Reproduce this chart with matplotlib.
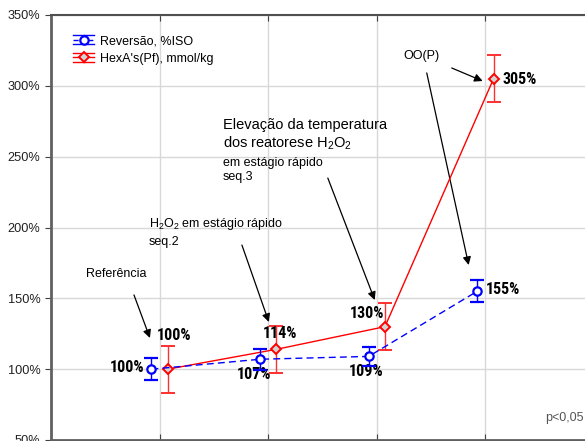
import numpy as np
import matplotlib.pyplot as plt
from matplotlib.ticker import FuncFormatter
from matplotlib.legend_handler import HandlerBase
from matplotlib.lines import Line2D

# four process stages, values in % of the reference stage
stages = [1, 2, 3, 4]
reversao = [100, 107, 109, 155]
reversao_err = [7.8, 7.5, 7.0, 7.8]
hexa = [100, 114, 130, 305]
hexa_err = [16.6, 16.5, 16.7, 16.5]
reversao_labels = ['100%', '107%', '109%', '155%']
hexa_labels = ['100%', '114%', '130%', '305%']

plt.rcParams['font.family'] = ['Liberation Sans', 'DejaVu Sans']
narrow = ['Liberation Sans Narrow', 'Roboto Condensed', 'DejaVu Sans Condensed',
          'Liberation Sans', 'DejaVu Sans']


class HandlerBars(HandlerBase):
    # legend key: centre line with marker between two horizontal caps
    def create_artists(self, legend, orig, xd, yd, width, height, fontsize, trans):
        c = orig.get_color()
        ym = height / 2 - yd
        off = 4.5 * 72 / 100
        arts = []
        for y in (ym - off, ym + off):
            arts.append(Line2D([-xd, width - xd], [y, y], color=c, lw=1))
        arts.append(Line2D([width / 2 - xd] * 2, [ym - off, ym + off], color=c, lw=1))
        mid = Line2D([-xd, width - xd], [ym, ym], color=c, lw=1,
                     ls=orig.get_linestyle())
        arts.append(mid)
        arts.append(Line2D([width / 2 - xd], [ym], marker=orig.get_marker(),
                           ms=orig.get_markersize(), mfc=orig.get_markerfacecolor(),
                           mec=orig.get_markeredgecolor(),
                           mew=orig.get_markeredgewidth(), ls='none'))
        for a in arts:
            a.set_transform(trans)
        return arts


fig = plt.figure(figsize=(5.85, 4.41), dpi=100)
ax = fig.add_axes([51/585, 1/441, 543/585, 425/441])
ax.set_xlim(0, 5)
ax.set_ylim(50, 350)

dx = 0.075
xb = np.array(stages) - dx
xr = np.array(stages) + dx

eb1 = ax.errorbar(xb, reversao, yerr=reversao_err, color='#0000ff', lw=1,
                  ls=(0, (5, 3)), marker='o', ms=6, mfc='white', mec='#0000ff',
                  mew=1.6, capsize=5, elinewidth=1, capthick=1, zorder=4)
eb2 = ax.errorbar(xr, hexa, yerr=hexa_err, color='#ff0000', lw=1,
                  marker='D', ms=5.5, mfc='#d3d3d3', mec='#ff0000', mew=1.4,
                  capsize=5, elinewidth=1, capthick=1, ecolor='#ff3030',
                  zorder=3)

# value labels
lab = dict(fontsize=11.5, fontweight='bold', family=narrow, color='black',
           va='center')
ax.text(0.856, 101.5, reversao_labels[0], ha='right', **lab)
ax.text(1.712, 95.9, reversao_labels[1], ha='left', **lab)
ax.text(2.742, 98.0, reversao_labels[2], ha='left', **lab)
ax.text(4.003, 155.9, reversao_labels[3], ha='left', **lab)
ax.text(0.975, 124.1, hexa_labels[0], ha='left', **lab)
ax.text(1.951, 125.5, hexa_labels[1], ha='left', **lab)
ax.text(2.751, 139.6, hexa_labels[2], ha='left', **lab)
ax.text(4.159, 304.8, hexa_labels[3], ha='left', **lab)

# stage notes
ax.text(0.598, 167.2, 'Referência', fontsize=9, ha='center', va='center')
ax.text(0.902, 202.5, r'$\mathregular{H_2O_2}$ em estágio rápido',
        fontsize=9, ha='left', va='center')
ax.text(0.902, 189.8, 'seq.2', fontsize=9, ha='left', va='center')
ax.text(1.583, 272.4, 'Elevação da temperatura', fontsize=10.5,
        ha='left', va='center')
ax.text(1.583, 259.6, r'dos reatorese $\mathregular{H_2O_2}$', fontsize=10.5,
        ha='left', va='center')
ax.text(1.583, 245.5, 'em estágio rápido', fontsize=9, ha='left', va='center')
ax.text(1.583, 235.7, 'seq.3', fontsize=9, ha='left', va='center')
ax.text(3.414, 321.1, 'OO(P)', fontsize=9, ha='center', va='center')

arrows = [((0.764, 152.4), (0.911, 122.0)),
          ((1.758, 187.6), (2.006, 133.3)),
          ((2.549, 234.9), (2.981, 148.8)),
          ((3.460, 309.1), (3.846, 173.5)),
          ((3.690, 312.6), (3.975, 303.4))]
for start, end in arrows:
    ax.annotate('', xy=end, xytext=start,
                arrowprops=dict(arrowstyle='-|>', color='black', lw=0.9,
                                mutation_scale=12, shrinkA=0, shrinkB=0))

fig.text(584/585, 1 - 418/441, 'p<0,05', fontsize=9, color='#555555',
         ha='right', va='center')

# axes styling
ax.set_xticks(stages)
ax.set_yticks(np.arange(50, 351, 50))
ax.yaxis.set_major_formatter(FuncFormatter(lambda v, p: f'{v:.0f}%'))
ax.tick_params(axis='x', direction='in', top=True, bottom=True,
               labelbottom=False, length=4, color='#404040')
ax.tick_params(axis='y', direction='out', length=4, labelsize=9.2,
               color='#404040', labelcolor='#202020')
ax.grid(True, color='#d8d8d8', lw=1)
ax.set_axisbelow(True)
for side in ['left', 'bottom']:
    ax.spines[side].set_color('#606060')
    ax.spines[side].set_linewidth(2)
ax.spines['top'].set_color('#505050')
ax.spines['top'].set_linewidth(1.5)
ax.spines['right'].set_visible(False)

ax.legend([eb1.lines[0], eb2.lines[0]],
          ['Reversão, %ISO', "HexA's(Pf), mmol/kg"],
          handler_map={Line2D: HandlerBars()},
          loc='upper left', bbox_to_anchor=(73/585, 1 - 35/441),
          bbox_transform=fig.transFigure, frameon=False, fontsize=9,
          handlelength=1.7, handletextpad=0.5, labelspacing=0.45,
          borderpad=0, borderaxespad=0)

fig.savefig('out.png', dpi=100)
